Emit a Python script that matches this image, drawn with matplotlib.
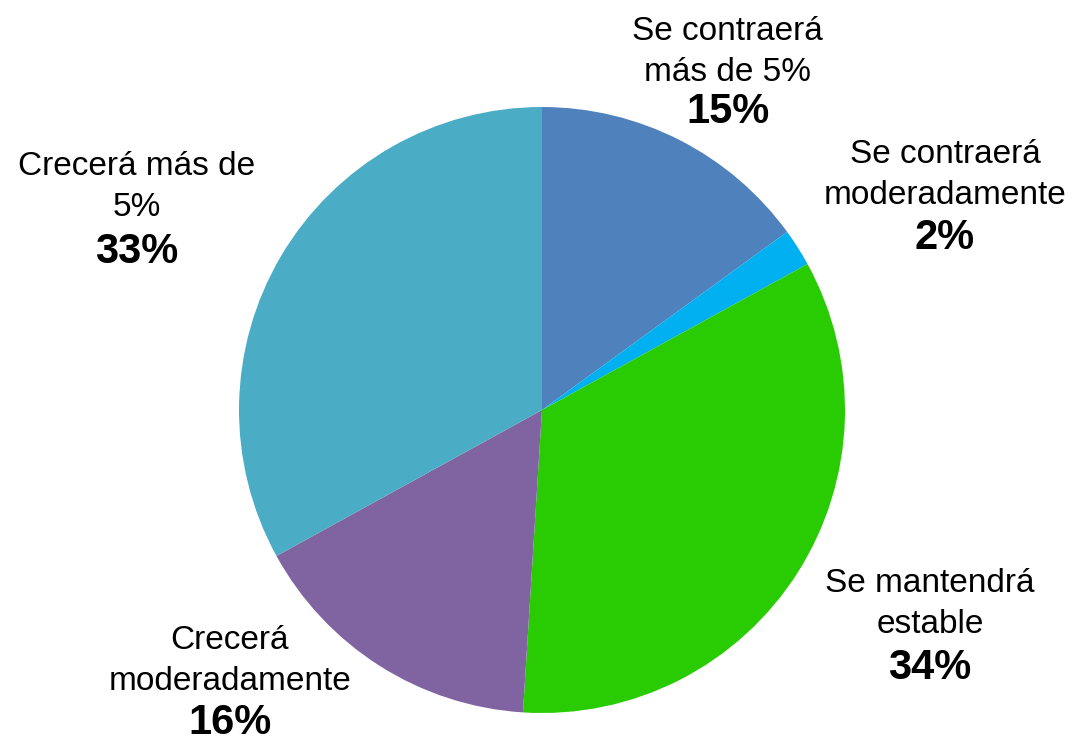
import matplotlib.pyplot as plt

# data
categories = ['Se contraerá\nmás de 5%', 'Se contraerá\nmoderadamente', 'Se mantendrá\nestable',
              'Crecerá\nmoderadamente', 'Crecerá más de\n5%']
values = [15, 2, 34, 16, 33]
colors = ['#4F81BD', '#00B0F0', '#29CC03', '#8064A2', '#4BACC6']

# label positions in pixels (name block centre, percent centre)
name_pos = [(727, 52), (945, 175), (930, 604), (230, 661), (137, 187)]
pct_pos = [(728, 112), (945, 238), (930, 668), (230, 723), (137, 252)]

W, H = 1076, 741
fig = plt.figure(figsize=(W / 100, H / 100), dpi=100)
ax = fig.add_axes([0, 0, 1, 1])

ax.pie(values, colors=colors, startangle=90, counterclock=False,
       center=(542, H - 410), radius=303, frame=True,
       wedgeprops=dict(linewidth=0))
ax.set_xlim(0, W)
ax.set_ylim(0, H)
ax.axis('off')

for name, v, (nx, ny), (px, py) in zip(categories, values, name_pos, pct_pos):
    ax.text(nx, H - ny, name, ha='center', va='center', fontsize=24,
            family='Liberation Sans', linespacing=1.4)
    ax.text(px, H - py, f'{v}%', ha='center', va='center', fontsize=30,
            family='Liberation Sans', fontweight='bold')

fig.savefig('out.png', dpi=100)
